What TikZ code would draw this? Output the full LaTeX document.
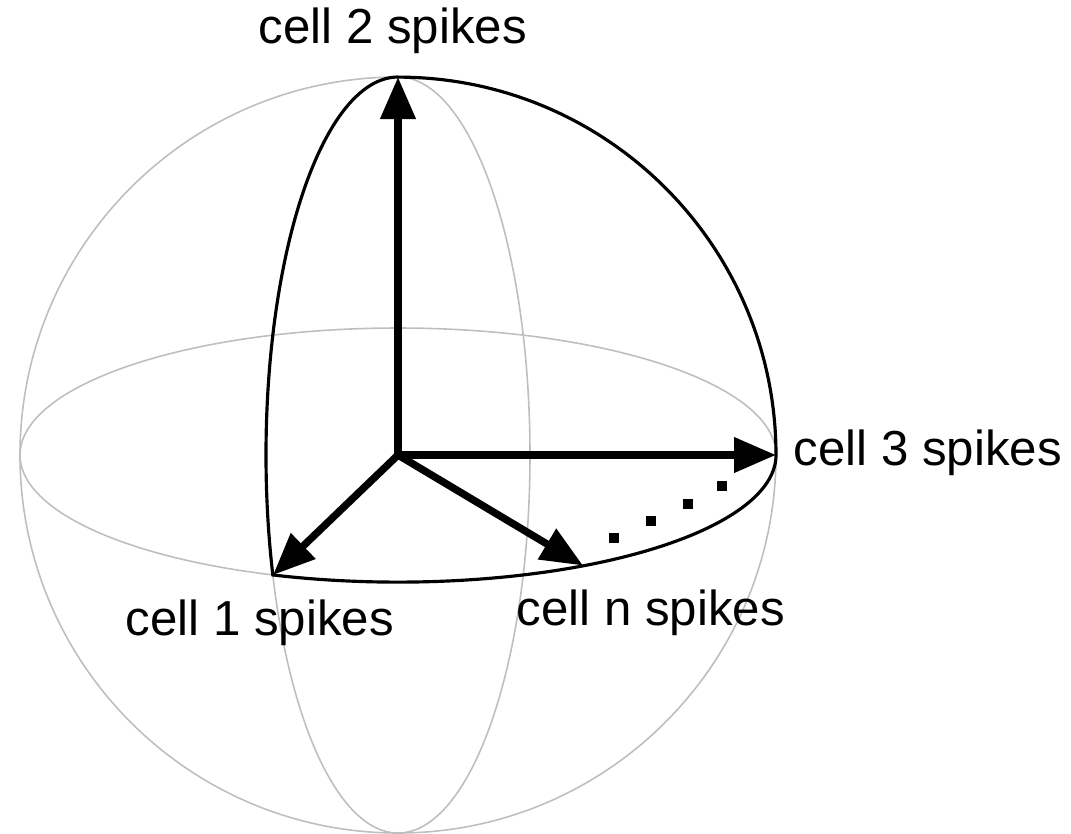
\documentclass[tikz,border=0pt]{standalone}
\usepackage{fontspec}
\setmainfont{Liberation Sans}
\usepackage{tikz}
\usetikzlibrary{arrows.meta, positioning, calc}
\definecolor{mydark}{RGB}{0,0,0}
\definecolor{mygrey}{RGB}{190,190,190}
\tikzset{
  guide/.style={draw=mygrey, line width=0.45pt},
  octant/.style={draw=mydark, line width=0.9pt},
  spike/.style={-{Triangle[length=4.2mm, width=3.4mm]}, line width=2.1pt, color=mydark},
  celllabel/.style={font=\fontsize{14}{16}\selectfont, inner sep=0pt, anchor=base west},
  dotsq/.style={fill=mydark, minimum size=0.1cm, inner sep=0pt, rectangle}
}

\begin{document}
\begin{tikzpicture}
  \useasboundingbox (-3.98,-3.78) rectangle (6.73,4.55);

  % Sphere, equator and meridian
  \draw[guide] (0,0) circle[radius=3.78];
  \draw[guide] (0,0) ellipse[x radius=3.78, y radius=1.27];
  \draw[guide] (0,0) ellipse[x radius=1.32, y radius=3.78];

  % Corner points
  \coordinate (O) at (0,0);
  \coordinate (c2) at (0,3.78);
  \coordinate (c3) at (3.78,0);
  \coordinate (c1) at (-1.25,-1.2);
  \coordinate (cn) at (1.85,-1.105);

  % Spherical triangle
  \draw[octant] (c2)
    arc[start angle=90, end angle=198.5, x radius=1.32, y radius=3.78]
    arc[start angle=250.66, end angle=360, x radius=3.78, y radius=1.27]
    arc[start angle=0, end angle=90, radius=3.78];

  % Spike vectors
  \draw[spike] (O) -- (c2);
  \draw[spike] (O) -- (c3);
  \draw[spike] (O) -- (c1);
  \draw[spike] (O) -- (cn);

  % Dots
  \foreach \px/\py [count=\i] in {2.16/-0.83, 2.53/-0.66, 2.90/-0.49, 3.24/-0.31}
    \node[dotsq] (d\i) at (\px,\py) {};

  % Labels
  \node[celllabel] (l2) at (-1.40,4.12) {cell 2 spikes};
  \node[celllabel] (l3) at (3.95,-0.10) {cell 3 spikes};
  \node[celllabel] (l1) at (-2.73,-1.80) {cell 1 spikes};
  \node[celllabel] (ln) at (1.18,-1.70) {cell n spikes};
\end{tikzpicture}
\end{document}
